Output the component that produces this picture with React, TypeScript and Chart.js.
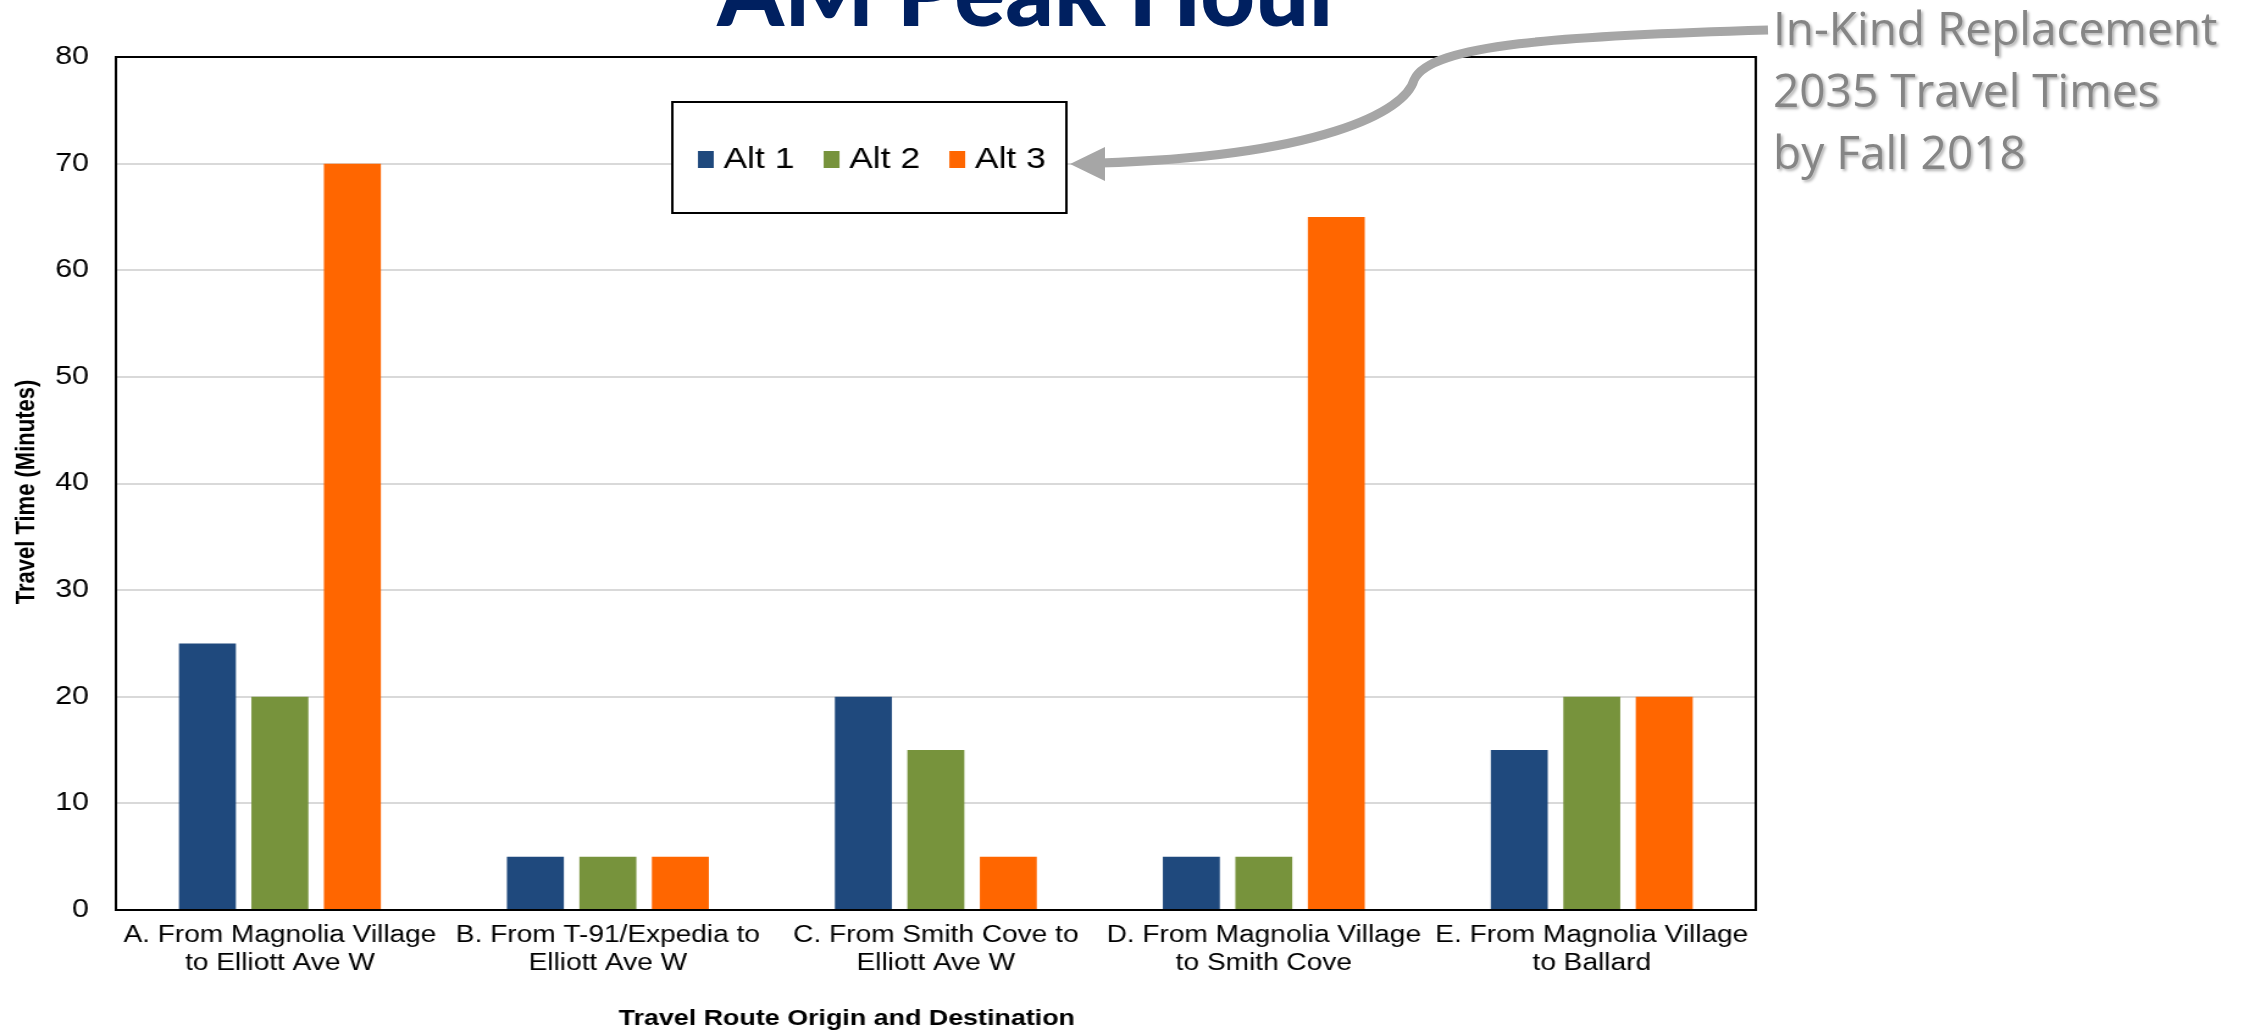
import React, { useEffect, useRef } from "react";
import { Chart, registerables } from "chart.js";

Chart.register(...registerables);

// ---- data ----
const categories: string[][] = [
  ["A. From Magnolia Village", "to Elliott Ave W"],
  ["B. From T-91/Expedia to", "Elliott Ave W"],
  ["C. From Smith Cove to", "Elliott Ave W"],
  ["D. From Magnolia Village", "to Smith Cove"],
  ["E. From Magnolia Village", "to Ballard"],
];
const seriesNames = ["Alt 1", "Alt 2", "Alt 3"];
const alt1 = [25, 5, 20, 5, 15];
const alt2 = [20, 5, 15, 5, 20];
const alt3 = [70, 5, 5, 65, 20];
const seriesColors = ["#1F497D", "#77933C", "#FF6600"];
const yMin = 0;
const yMax = 80;
const yStep = 10;
const chartTitle = "AM Peak Hour";
const noteLines = ["In-Kind Replacement", "2035 Travel Times", "by Fall 2018"];
const yAxisTitle = "Travel Time (Minutes)";
const xAxisTitle = "Travel Route Origin and Destination";

// ---- layout ----
const W = 2256;
const H = 1035;
const K = 1.22; // horizontal stretch of the chart drawing
const CW = Math.round(W / K);
const AREA_LEFT = 95;
const AREA_RIGHT = Math.round(1756 / K);
const AREA_TOP = 57;
const AREA_BOTTOM = 910;
const FONT = '"Liberation Sans", Arial, Helvetica, sans-serif';

const framePlugin = {
  id: "frame",
  afterDatasetsDraw(chart: any) {
    const { ctx, chartArea: a } = chart;
    ctx.save();
    ctx.strokeStyle = "#000";
    ctx.lineWidth = 2;
    ctx.strokeRect(a.left, a.top, a.right - a.left, a.bottom - a.top);
    ctx.restore();
  },
};

const axisTitlesPlugin = {
  id: "axisTitles",
  afterDraw(chart: any) {
    const ctx = chart.ctx;
    ctx.save();
    ctx.fillStyle = "#000";
    ctx.font = `bold 22px ${FONT}`;
    ctx.textAlign = "center";
    ctx.textBaseline = "middle";
    // x title
    ctx.fillText(xAxisTitle, Math.round(847 / K), 1019);
    // y title
    ctx.translate(22, 492);
    ctx.rotate(-Math.PI / 2);
    ctx.fillText(yAxisTitle, 0, 0);
    ctx.restore();
  },
};

const boxLegendPlugin = {
  id: "boxLegend",
  afterDraw(chart: any) {
    const ctx = chart.ctx;
    const bx = Math.round(672 / K);
    const bw = Math.round(1066 / K) - bx;
    const by = 102;
    const bh = 111;
    ctx.save();
    ctx.fillStyle = "#fff";
    ctx.fillRect(bx, by, bw, bh);
    ctx.strokeStyle = "#000";
    ctx.lineWidth = 2;
    ctx.strokeRect(bx, by, bw, bh);
    ctx.font = `29px ${FONT}`;
    ctx.textBaseline = "middle";
    ctx.textAlign = "left";
    let x = Math.round(698 / K);
    const cy = 160;
    chart.data.datasets.forEach((ds: any) => {
      ctx.fillStyle = ds.backgroundColor;
      ctx.fillRect(x, cy - 9, 13, 17);
      ctx.fillStyle = "#000";
      ctx.fillText(ds.label, x + 21, cy);
      x += 21 + ctx.measureText(ds.label).width + 24;
    });
    ctx.restore();
  },
};

export default function App() {
  const canvasRef = useRef<HTMLCanvasElement | null>(null);

  useEffect(() => {
    document.body.style.margin = "0";
    document.body.style.overflow = "hidden";
    const canvas = canvasRef.current;
    if (!canvas) return;
    const seriesData = [alt1, alt2, alt3];
    const chart = new Chart(canvas, {
      type: "bar",
      data: {
        labels: categories,
        datasets: seriesNames.map((name, i) => ({
          label: name,
          data: seriesData[i],
          backgroundColor: seriesColors[i],
          borderWidth: 0,
          categoryPercentage: 0.663,
          barPercentage: 0.786,
        })),
      },
      options: {
        responsive: false,
        animation: false,
        devicePixelRatio: 1,
        layout: {
          padding: { left: 0, top: AREA_TOP, right: CW - AREA_RIGHT, bottom: 0 },
        },
        plugins: {
          legend: { display: false },
          title: { display: false },
          tooltip: { enabled: false },
        },
        scales: {
          x: {
            grid: { display: false, drawTicks: false },
            border: { display: false },
            ticks: {
              color: "#000",
              font: { family: FONT, size: 23 },
              padding: 12,
              maxRotation: 0,
              autoSkip: false,
            },
            title: { display: false },
            afterFit(scale: any) {
              scale.height = H - AREA_BOTTOM;
            },
          },
          y: {
            min: yMin,
            max: yMax,
            grid: { color: "#D9D9D9", lineWidth: 2, drawTicks: false },
            border: { display: false },
            ticks: {
              stepSize: yStep,
              color: "#000",
              font: { family: FONT, size: 25 },
              padding: 22,
            },
            title: { display: false },
            afterFit(scale: any) {
              scale.width = AREA_LEFT;
            },
          },
        },
      },
      plugins: [framePlugin, boxLegendPlugin, axisTitlesPlugin],
    } as any);
    return () => chart.destroy();
  }, []);

  return (
    <div
      style={{
        position: "fixed",
        left: 0,
        top: 0,
        width: W,
        height: H,
        overflow: "hidden",
        background: "#fff",
      }}
    >
      <canvas
        ref={canvasRef}
        width={CW}
        height={H}
        style={{ position: "absolute", left: 0, top: 0, width: `${W}px`, height: `${H}px` }}
      />
      <div
        style={{
          position: "absolute",
          left: 1031,
          top: -58,
          transform: "translateX(-50%)",
          whiteSpace: "nowrap",
          fontFamily: "Lato, 'Open Sans', sans-serif",
          fontWeight: 900,
          fontSize: 95,
          lineHeight: "95px",
          color: "#002060",
        }}
      >
        {chartTitle}
      </div>
      <div
        style={{
          position: "absolute",
          left: 1773,
          top: -4,
          whiteSpace: "nowrap",
          fontFamily: "'Open Sans', Lato, sans-serif",
          fontSize: 46,
          lineHeight: "62px",
          color: "#858585",
          textShadow: "2px 2px 3px rgba(0,0,0,0.3)",
        }}
      >
        {noteLines.map((l) => (
          <div key={l}>{l}</div>
        ))}
      </div>
      <svg
        width={W}
        height={H}
        style={{ position: "absolute", left: 0, top: 0, pointerEvents: "none" }}
      >
        <path
          d="M 1768 30 C 1560 36, 1430 44, 1414 80 C 1405 112, 1320 156, 1100 163"
          fill="none"
          stroke="#A6A6A6"
          strokeWidth={9}
        />
        <polygon points="1070,164 1105,147 1105,181" fill="#A6A6A6" />
      </svg>
    </div>
  );
}
